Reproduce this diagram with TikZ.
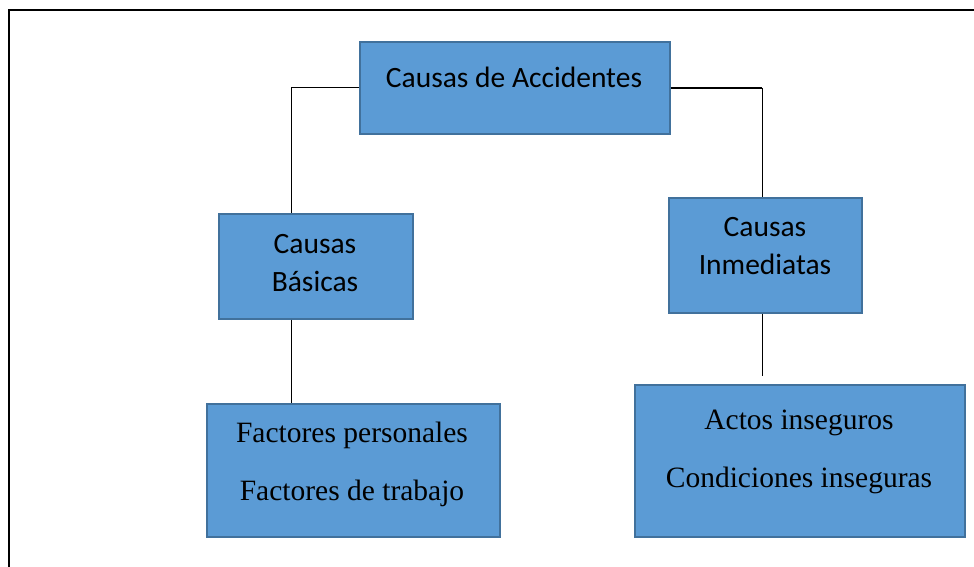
\documentclass[tikz,border=0pt]{standalone}
\usepackage{fontspec}
\setmainfont{Carlito}
\newfontfamily\timesf{Liberation Serif}
\definecolor{boxfill}{HTML}{5B9BD5}
\definecolor{boxline}{HTML}{41719C}
\begin{document}
\begin{tikzpicture}[x=1pt,y=-1pt,
  box/.style={draw=boxline,fill=boxfill,line width=1.6pt,rectangle,inner sep=0pt,anchor=north west},
  cal/.style={font=\fontsize{29.5}{38}\selectfont,align=center,inner sep=0pt},
  tim/.style={font=\timesf\fontsize{29.5}{58}\selectfont,align=center,inner sep=0pt},
  conn/.style={draw=black,line width=0.9pt}]
\useasboundingbox (0,0) rectangle (974,566);
\draw[line width=2.4pt] (9,590) -- (9,10) -- (990,10);
% boxes
\node[box,minimum width=310pt,minimum height=92pt] (top) at (359,41) {};
\node[box,minimum width=194pt,minimum height=105pt] (basic) at (218,213) {};
\node[box,minimum width=193pt,minimum height=115pt] (inm) at (668,197) {};
\node[box,minimum width=293pt,minimum height=133pt] (fact) at (206,403) {};
\node[box,minimum width=330pt,minimum height=152pt] (acts) at (634,384) {};
% texts
\node[cal] (ttop) at (514,77) {Causas de Accidentes};
\node[cal] (tbasic) at (315,263) {Causas\\Básicas};
\node[cal] (tinm) at (765,246) {Causas\\Inmediatas};
\node[tim] (tfact) at (352,464) {Factores personales\\Factores de trabajo};
\node[tim] (tacts) at (799,452) {Actos inseguros\\Condiciones inseguras};
% connectors
\coordinate (lx) at (291,0);
\coordinate (rx) at (762,0);
\coordinate (rend) at (762,376);
\draw[conn] (top.west) -| (lx |- basic.north);
\draw[conn] (lx |- basic.south) -- (lx |- fact.north);
\draw[conn,line width=1.6pt] (top.east) -- (rx |- top.east);
\draw[conn] (rx |- top.east) -- (rx |- inm.north);
\draw[conn] (rx |- inm.south) -- (rend);
\end{tikzpicture}
\end{document}
